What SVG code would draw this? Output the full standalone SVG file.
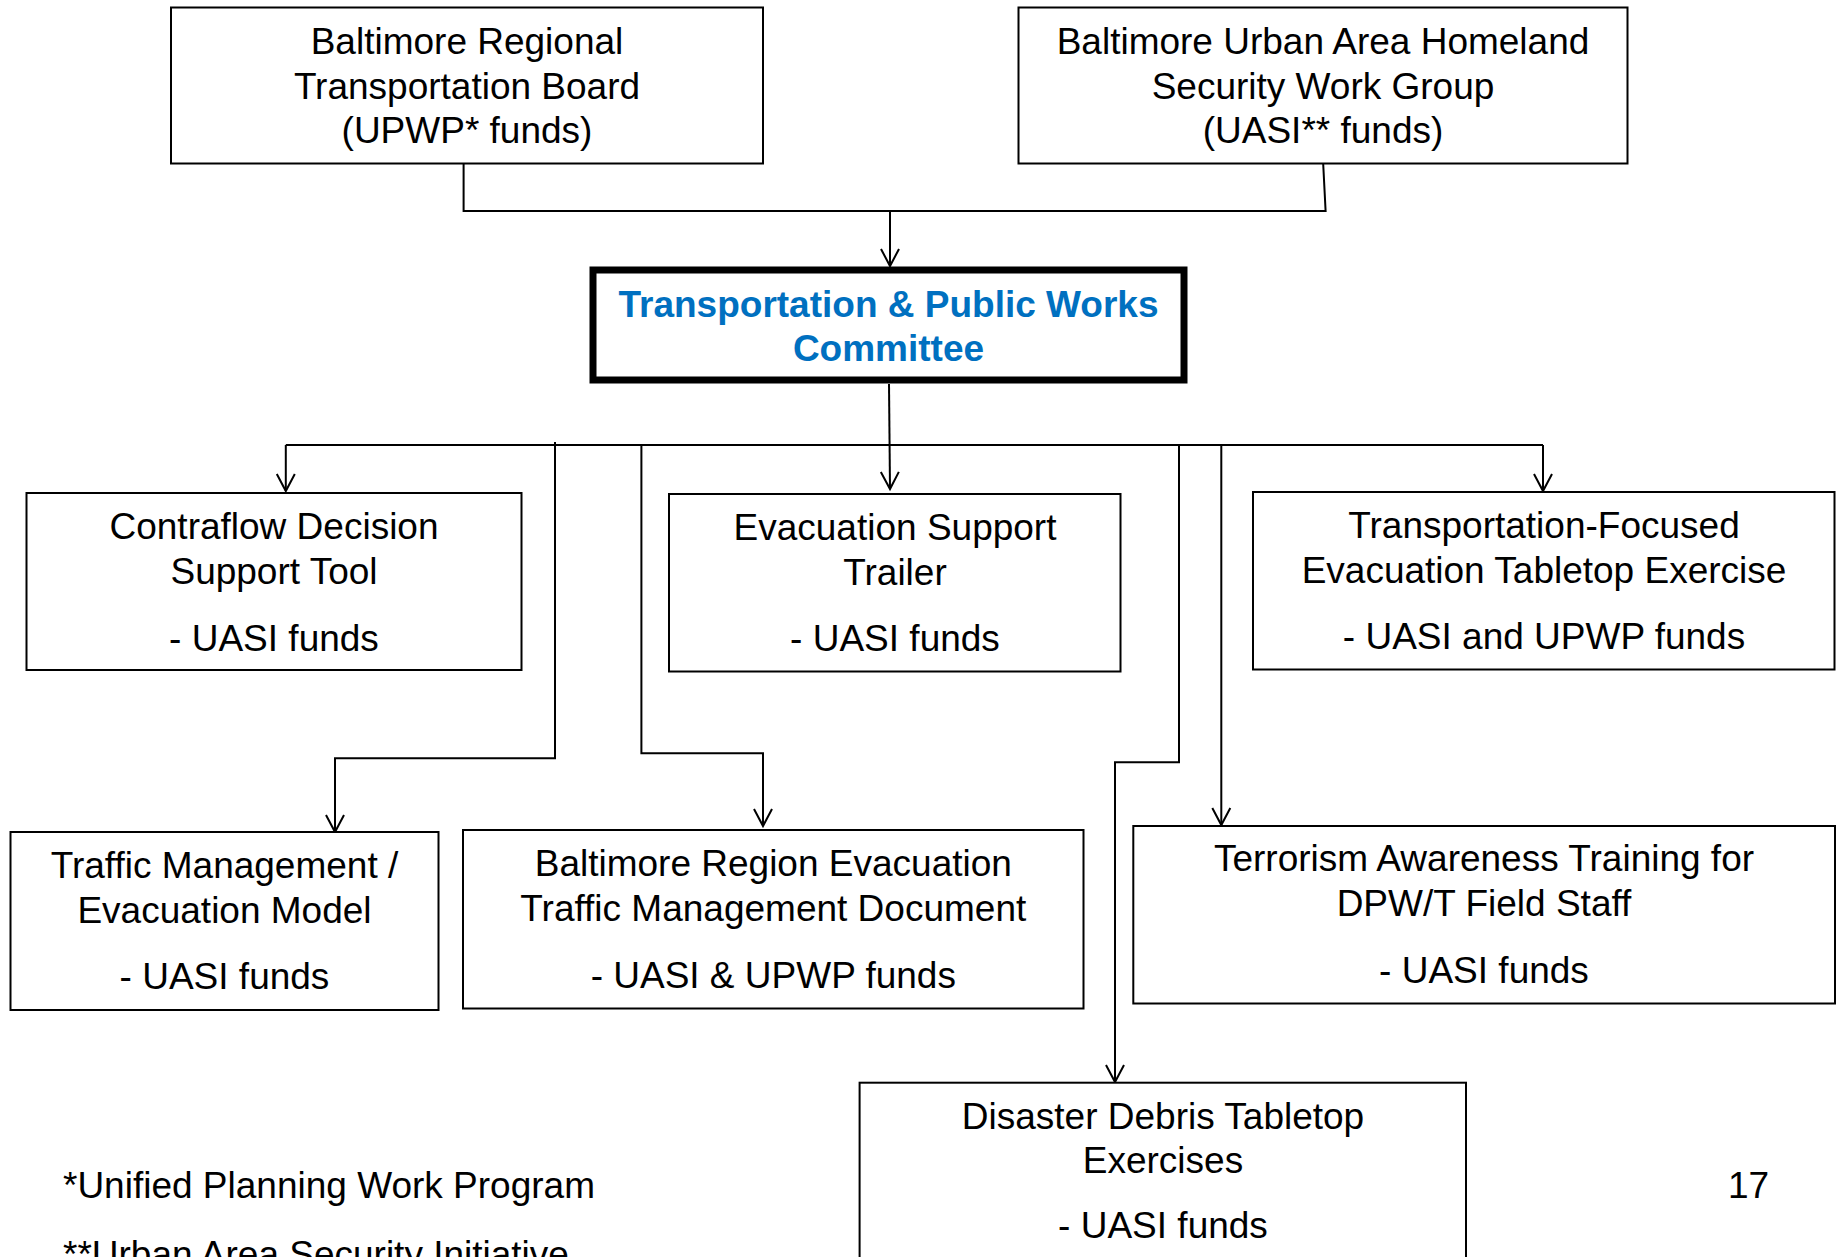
<svg xmlns="http://www.w3.org/2000/svg" width="1839" height="1257" viewBox="0 0 1839 1257">
<style>
.box{fill:#fff;stroke:#000;stroke-width:2}
.main{fill:#fff;stroke:#000;stroke-width:7}
.t{font-family:"Liberation Sans",Arial,sans-serif;font-size:37px;fill:#000;text-anchor:middle}
.tb{font-family:"Liberation Sans",Arial,sans-serif;font-size:37px;font-weight:bold;fill:#0070C0;text-anchor:middle}
.fn{font-family:"Liberation Sans",Arial,sans-serif;font-size:37px;fill:#000}
.c{fill:none;stroke:#000;stroke-width:2}
</style>
<defs>
<marker id="arr" markerUnits="userSpaceOnUse" markerWidth="40" markerHeight="40" viewBox="-20 -20 40 40" refX="0" refY="0" orient="auto" overflow="visible">
<path d="M-17,-9 L0,0 L-17,9" fill="none" stroke="#000" stroke-width="2"/>
</marker>
</defs>
<rect width="1839" height="1257" fill="#fff"/>
<g id="connectors">
<path class="c" d="M463.6,164 V211 H1325.6 L1323.2,164"/>
<path class="c" d="M890,211 V266" marker-end="url(#arr)"/>
<path class="c" d="M889,384 L890,489" marker-end="url(#arr)"/>
<path class="c" d="M285.8,445 H1543"/>
<path class="c" d="M285.8,445 V491" marker-end="url(#arr)"/>
<path class="c" d="M1543,445 V491" marker-end="url(#arr)"/>
<path class="c" d="M555,442 V758.3 H335 V832" marker-end="url(#arr)"/>
<path class="c" d="M641.4,445 V753.3 H763 V826" marker-end="url(#arr)"/>
<path class="c" d="M1179,445 V762.3 H1115 V1082" marker-end="url(#arr)"/>
<path class="c" d="M1221.3,445 V825" marker-end="url(#arr)"/>
</g>
<g id="brtb">
<rect class="box" x="171" y="7.5" width="592" height="156"/>
<text class="t" x="467" y="54">Baltimore Regional</text>
<text class="t" x="467" y="98.5">Transportation Board</text>
<text class="t" x="467" y="143">(UPWP* funds)</text>
</g>
<g id="buahswg">
<rect class="box" x="1018.5" y="7.5" width="609" height="156"/>
<text class="t" x="1323" y="54">Baltimore Urban Area Homeland</text>
<text class="t" x="1323" y="98.5">Security Work Group</text>
<text class="t" x="1323" y="143">(UASI** funds)</text>
</g>
<g id="committee">
<rect class="main" x="593" y="270" width="591" height="110"/>
<text class="tb" x="888.5" y="317">Transportation &amp; Public Works</text>
<text class="tb" x="888.5" y="361">Committee</text>
</g>
<g id="contraflow">
<rect class="box" x="26.5" y="493" width="495" height="177"/>
<text class="t" x="274" y="539">Contraflow Decision</text>
<text class="t" x="274" y="584">Support Tool</text>
<text class="t" x="274" y="651">- UASI funds</text>
</g>
<g id="trailer">
<rect class="box" x="669" y="494" width="451.5" height="177.5"/>
<text class="t" x="895" y="540">Evacuation Support</text>
<text class="t" x="895" y="585">Trailer</text>
<text class="t" x="895" y="651">- UASI funds</text>
</g>
<g id="tabletop">
<rect class="box" x="1253" y="492" width="581.5" height="177.5"/>
<text class="t" x="1544" y="538">Transportation-Focused</text>
<text class="t" x="1544" y="583">Evacuation Tabletop Exercise</text>
<text class="t" x="1544" y="649">- UASI and UPWP funds</text>
</g>
<g id="model">
<rect class="box" x="10.5" y="832" width="428" height="178"/>
<text class="t" x="224.5" y="878">Traffic Management /</text>
<text class="t" x="224.5" y="923">Evacuation Model</text>
<text class="t" x="224.5" y="989">- UASI funds</text>
</g>
<g id="document">
<rect class="box" x="463" y="830" width="620.5" height="178.5"/>
<text class="t" x="773.3" y="876">Baltimore Region Evacuation</text>
<text class="t" x="773.3" y="921">Traffic Management Document</text>
<text class="t" x="773.3" y="988">- UASI &amp; UPWP funds</text>
</g>
<g id="terrorism">
<rect class="box" x="1133.3" y="826" width="701.7" height="177.5"/>
<text class="t" x="1484" y="871">Terrorism Awareness Training for</text>
<text class="t" x="1484" y="916">DPW/T Field Staff</text>
<text class="t" x="1484" y="983">- UASI funds</text>
</g>
<g id="debris">
<rect class="box" x="859.6" y="1082.7" width="606.4" height="200"/>
<text class="t" x="1163" y="1129">Disaster Debris Tabletop</text>
<text class="t" x="1163" y="1173">Exercises</text>
<text class="t" x="1163" y="1238">- UASI funds</text>
</g>
<g id="footnotes">
<text class="fn" x="63" y="1198">*Unified Planning Work Program</text>
<text class="fn" x="63" y="1267">**Urban Area Security Initiative</text>
<text class="fn" x="1728" y="1198">17</text>
</g>
</svg>
